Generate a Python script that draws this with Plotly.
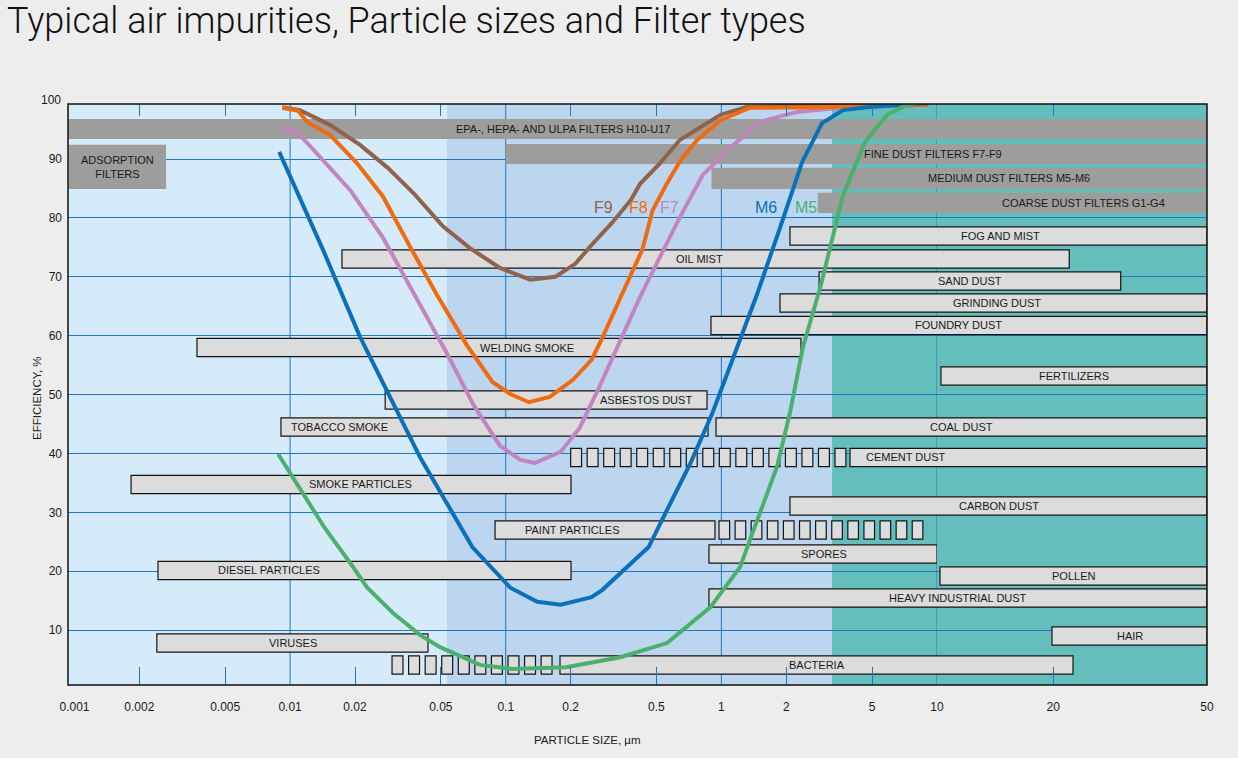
import numpy as np
import plotly.graph_objects as go

# ---- filter efficiency curves: particle size (µm) vs efficiency (%) ----
F9_SIZE = [0.0092, 0.0111, 0.0153, 0.0211, 0.0284, 0.038, 0.051, 0.068, 0.094, 0.13, 0.17, 0.21,
           0.25, 0.31, 0.38, 0.42, 0.52, 0.64, 0.80, 0.99, 1.3, 2.9, 9.3]
F9_EFF = [98.8, 98.3, 95.8, 92.4, 88.5, 83.9, 78.6, 74.9, 71.5, 69.5, 70.0, 72.2,
          75.4, 79.1, 83.0, 85.8, 89.3, 93.2, 95.4, 97.5, 98.8, 99.2, 99.5]

F8_SIZE = [0.0092, 0.0109, 0.012, 0.0153, 0.0204, 0.027, 0.036, 0.048, 0.066, 0.087, 0.105, 0.128,
           0.16, 0.205, 0.25, 0.28, 0.365, 0.43, 0.48, 0.56, 0.64, 0.77, 0.99, 1.36, 2.8, 9.1]
F8_EFF = [98.7, 98.2, 96.3, 94.1, 89.3, 83.6, 75.1, 66.9, 58.4, 52.1, 50.1, 48.7,
          49.6, 52.5, 55.9, 59.6, 68.9, 74.6, 81.3, 85.9, 89.5, 93.2, 96.6, 98.7, 98.8, 99.2]

F7_SIZE = [0.0092, 0.0109, 0.0138, 0.019, 0.027, 0.037, 0.053, 0.071, 0.094, 0.117, 0.137, 0.18,
           0.22, 0.27, 0.34, 0.42, 0.54, 0.64, 0.82, 1.1, 1.51, 2.24, 3.55, 9.1]
F7_EFF = [95.4, 94.4, 90.3, 84.7, 76.6, 67.4, 57.2, 48.2, 41.3, 38.9, 38.4, 40.3,
          44.3, 51.1, 59.3, 66.6, 74.6, 80.0, 87.3, 91.9, 96.3, 98.0, 98.7, 99.2]

M6_SIZE = [0.0089, 0.0142, 0.0211, 0.0281, 0.040, 0.055, 0.070, 0.105, 0.14, 0.18, 0.25, 0.28,
           0.365, 0.46, 0.56, 0.72, 0.91, 1.22, 1.46, 1.87, 2.37, 2.93, 3.67, 4.74, 9.1]
M6_EFF = [91.2, 74.6, 59.8, 50.8, 39.4, 30.7, 24.1, 17.2, 14.8, 14.3, 15.6, 16.8,
          20.7, 24.1, 30.4, 38.4, 46.9, 59.3, 66.9, 78.3, 89.5, 96.1, 98.3, 98.8, 99.5]

M5_SIZE = [0.0088, 0.0128, 0.0145, 0.019, 0.0227, 0.030, 0.040, 0.0496, 0.076, 0.108, 0.19, 0.34,
           0.56, 0.89, 1.22, 1.51, 1.81, 2.08, 2.39, 2.87, 3.67, 4.64, 5.87, 7.26, 9.1]
M5_EFF = [39.9, 30.4, 27.3, 21.4, 17.3, 12.9, 9.2, 7.1, 4.1, 3.4, 3.7, 5.4,
          7.8, 13.9, 20.7, 29.9, 37.7, 46.9, 58.1, 68.1, 83.9, 92.9, 97.5, 99.2, 99.7]

CURVE_NAMES = ["F9", "F7", "F8", "M6", "M5"]
CURVE_LABEL_SIZE = [0.283, 0.572, 0.411, 1.61, 2.47]
CURVE_LABEL_EFF = 81.7

# ---- filter classes (dark bands): size range and efficiency band ----
FILTER_NAMES = ["EPA-, HEPA- AND ULPA FILTERS H10-U17", "ADSORPTION<br>FILTERS",
                "FINE DUST FILTERS F7-F9", "MEDIUM DUST FILTERS M5-M6", "COARSE DUST FILTERS G1-G4"]
FILTER_MIN = [0.0009, 0.00094, 0.1, 0.9, 2.8]
FILTER_MAX = [50, 0.00266, 50, 50, 50]
FILTER_LOW = [93.4, 84.9, 89.15, 84.9, 80.85]
FILTER_HIGH = [96.8, 92.4, 92.55, 88.5, 84.25]
FILTER_LABEL_AT = [0.184, 0.00158, 9.58, 15.4, 24.0]

# ---- air impurities: size range (µm) and the row they sit on ----
IMPURITY_NAMES = ["FOG AND MIST", "OIL MIST", "SAND DUST", "GRINDING DUST", "FOUNDRY DUST",
                  "WELDING SMOKE", "FERTILIZERS", "ASBESTOS DUST", "TOBACCO SMOKE", "COAL DUST",
                  "CEMENT DUST", "SMOKE PARTICLES", "CARBON DUST", "PAINT PARTICLES", "SPORES",
                  "POLLEN", "DIESEL PARTICLES", "HEAVY INDUSTRIAL DUST", "HAIR", "VIRUSES", "BACTERIA"]
IMPURITY_MIN = [2.08, 0.0174, 2.84, 1.87, 0.895, 0.0037, 10.24, 0.0276, 0.00907, 0.9445,
                3.95, 0.00183, 2.08, 0.0892, 0.876, 10.18, 0.00244, 0.876, 19.85, 0.00241, 0.1785]
IMPURITY_MAX = [50, 22.0, 29.9, 50, 50, 2.34, 50, 0.858, 0.867, 50,
                50, 0.2008, 50, 0.934, 10, 50, 0.2008, 50, 50, 0.0436, 22.5]
IMPURITY_ROW = [76.93, 73.02, 69.29, 65.55, 61.73, 57.99, 53.15, 49.08, 44.49, 44.49,
                39.32, 34.73, 31.08, 27.0, 22.93, 19.19, 20.13, 15.46, 9.0, 7.81, 4.08]
IMPURITY_LABEL_AT = [14.6, 0.79, 12.2, 14.3, 11.4, 0.125, 22.6, 0.447, 0.0170, 11.6,
                     7.18, 0.0211, 14.5, 0.205, 2.99, 22.6, 0.0080, 11.3, 31.6, 0.0103, 2.78]

# uncertain extensions, drawn as a row of small boxes
DASHED_NAMES = ["CEMENT DUST", "PAINT PARTICLES", "BACTERIA"]
DASHED_MIN = [0.2, 0.975, 0.0297]
DASHED_MAX = [3.78, 8.6, 0.164]

# particle size zones shaded behind the chart
ZONE_EDGES = [0.0534, 3.26]

X_TICKS = [0.001, 0.002, 0.005, 0.01, 0.02, 0.05, 0.1, 0.2, 0.5, 1, 2, 5, 10]
X2_TICKS = [20, 50]
X_GRID = [0.01, 0.1, 1, 10]
X_MINOR = [0.002, 0.005, 0.02, 0.05, 0.2, 0.5, 2, 5]
Y_TICKS = [10, 20, 30, 40, 50, 60, 70, 80, 90]

# ---- styling ----
CURVE_COLORS = {"F9": "#91634a", "F8": "#ef6b12", "F7": "#c285bf", "M6": "#0b70ba", "M5": "#4bb06c"}
CURVES = {"F9": (F9_SIZE, F9_EFF), "F8": (F8_SIZE, F8_EFF), "F7": (F7_SIZE, F7_EFF),
          "M6": (M6_SIZE, M6_EFF), "M5": (M5_SIZE, M5_EFF)}
GRID = "#1f77c3"
BAR_FILL = "#dcdcdc"
BAR_LINE = dict(color="#141414", width=1.2)
FILTER_FILL = "#9d9d9b"
ZONE_COLORS = ["#d5ebfa", "#bcd6f0", "#64bfbc"]
TEXT = "#1a1a1a"
SANS = "Liberation Sans, Arial, sans-serif"
BAR_H = 3.1
BOX_PITCH = 0.0756   # decades from one box to the next
BOX_FILL = 0.66      # share of the pitch a box covers

X_RANGE = [-3.03, 1]               # lower axis (log10), ends at the 10 µm line
X2_RANGE = [1, np.log10(50) + 1e-4]
Y_RANGE = [0.68, 99.34]
SPLIT = 10
L, R, T, B = 68, 31, 104, 73
W, H = 1238, 758
SPLIT_FRAC = 869 / 1139


def rect(xref, x0, x1, y0, y1, fill, line, layer="between"):
    return dict(type="rect", xref=xref, yref="y", x0=x0, x1=x1, y0=y0, y1=y1,
                fillcolor=fill, line=line, layer=layer)


def bar_shapes(x0, x1, y0, y1, fill, line, layer="between"):
    # the size axis is in two parts joined at 10 µm; a bar crossing the join is drawn on
    # both, each overshooting so the subplot clip hides the inner edges
    if x1 <= SPLIT:
        return [rect("x", x0, x1, y0, y1, fill, line, layer)]
    if x0 >= SPLIT:
        return [rect("x2", x0, x1, y0, y1, fill, line, layer)]
    return [rect("x", x0, SPLIT * 2, y0, y1, fill, line, layer),
            rect("x2", SPLIT / 2, x1, y0, y1, fill, line, layer)]


def box_row(lo, hi, y0, y1):
    span = np.log10(hi / lo)
    n = int(round(span / BOX_PITCH + 1 - BOX_FILL))
    step = span / (n - 1 + BOX_FILL)
    out = []
    for i in range(n):
        a = np.log10(lo) + i * step
        out.append(rect("x", 10 ** a, 10 ** (a + BOX_FILL * step), y0, y1, BAR_FILL, BAR_LINE))
    return out


def label(x, y, text, size=11, color=TEXT, **kw):
    xref = "x" if x <= SPLIT else "x2"
    return dict(x=np.log10(x), xref=xref, y=y, yref="y", text=text, showarrow=False,
                font=dict(family=SANS, size=size, color=color), **kw)


shapes = []
annotations = []

# background zones
z = [10 ** X_RANGE[0] * 0.5] + ZONE_EDGES + [100]
for i, col in enumerate(ZONE_COLORS):
    shapes += bar_shapes(z[i], z[i + 1], -5, 105, col, dict(width=0), layer="below")

# decade grid lines
for v in X_GRID:
    shapes.append(dict(type="line", xref="x", yref="y", x0=v, x1=v, y0=Y_RANGE[0], y1=Y_RANGE[1],
                       line=dict(color=GRID, width=1), layer="below"))

# filter classes
for name, lo, hi, y0, y1, at in zip(FILTER_NAMES, FILTER_MIN, FILTER_MAX, FILTER_LOW, FILTER_HIGH,
                                     FILTER_LABEL_AT):
    shapes += bar_shapes(lo, hi, y0, y1, FILTER_FILL, dict(width=0))
    annotations.append(label(at, (y0 + y1) / 2, name))

# impurities
for name, lo, hi, row, at in zip(IMPURITY_NAMES, IMPURITY_MIN, IMPURITY_MAX, IMPURITY_ROW,
                                 IMPURITY_LABEL_AT):
    shapes += bar_shapes(lo, hi, row - BAR_H / 2, row + BAR_H / 2, BAR_FILL, BAR_LINE)
    annotations.append(label(at, row, name))
    if name in DASHED_NAMES:
        k = DASHED_NAMES.index(name)
        shapes += box_row(DASHED_MIN[k], DASHED_MAX[k], row - BAR_H / 2, row + BAR_H / 2)

fig = go.Figure()
for name in ["F9", "F7", "F8", "M6", "M5"]:
    xs, ys = CURVES[name]
    fig.add_trace(go.Scatter(x=xs, y=ys, mode="lines", line=dict(color=CURVE_COLORS[name], width=4),
                             hoverinfo="skip", showlegend=False))
for name, at in zip(CURVE_NAMES, CURVE_LABEL_SIZE):
    annotations.append(label(at, CURVE_LABEL_EFF, name, size=16, color=CURVE_COLORS[name]))

# empty traces so every axis gets its subplot
for ax in ["x2", "x3", "x4", "x5", "x6"]:
    fig.add_trace(go.Scatter(x=[], y=[], xaxis=ax, yaxis="y", showlegend=False, hoverinfo="skip"))

tickfont = dict(family=SANS, size=12, color=TEXT)
minor_common = dict(type="log", anchor="y", ticks="inside", tickcolor=GRID, tickwidth=1,
                    showticklabels=False, showgrid=False, zeroline=False)

# plot frame and the out-of-range "100" label
shapes.append(dict(type="rect", xref="paper", yref="paper", x0=0, x1=1, y0=0, y1=1,
                   line=dict(color="#111111", width=1.5), layer="above"))
annotations += [
    dict(xref="paper", yref="paper", x=0, y=1, xanchor="right", yanchor="middle", xshift=-5, yshift=4,
         text="100", showarrow=False, font=tickfont),
    dict(xref="paper", yref="paper", x=(587 - L) / 1139, y=-55 / 581, yanchor="middle",
         text="PARTICLE SIZE, µm", showarrow=False, font=dict(family=SANS, size=11.5, color=TEXT)),
    dict(xref="paper", yref="paper", x=-39 / 1139, y=0.494, textangle=-90,
         text="EFFICIENCY, %", showarrow=False, font=dict(family=SANS, size=11.5, color=TEXT)),
]

fig.update_layout(
    width=W, height=H,
    margin=dict(l=L, r=R, t=T, b=B),
    paper_bgcolor="#ededed",
    plot_bgcolor=ZONE_COLORS[0],
    title=dict(text="Typical air impurities, Particle sizes and Filter types", x=7 / W, xanchor="left",
               y=1 - 20 / H, yanchor="middle",
               font=dict(family="Roboto, Liberation Sans, sans-serif", size=36, weight=300, color="#111111")),
    xaxis=dict(type="log", range=X_RANGE, domain=[0, SPLIT_FRAC], anchor="y",
               tickvals=X_TICKS, ticktext=[f"{v:g}" for v in X_TICKS], ticks="",
               ticklabelstandoff=13, tickfont=tickfont, showgrid=False, zeroline=False),
    xaxis2=dict(type="log", range=X2_RANGE, domain=[SPLIT_FRAC, 1], anchor="y",
                tickvals=X2_TICKS, ticktext=[str(v) for v in X2_TICKS], ticks="",
                ticklabelstandoff=13, tickfont=tickfont, showgrid=False, zeroline=False),
    xaxis3=dict(overlaying="x", range=X_RANGE, side="bottom", tickvals=X_MINOR, ticklen=18, **minor_common),
    xaxis4=dict(overlaying="x", range=X_RANGE, side="top", tickvals=X_MINOR, ticklen=12, **minor_common),
    xaxis5=dict(overlaying="x2", range=X2_RANGE, side="bottom", tickvals=[20], ticklen=18, **minor_common),
    xaxis6=dict(overlaying="x2", range=X2_RANGE, side="top", tickvals=[20], ticklen=12, **minor_common),
    yaxis=dict(range=Y_RANGE, domain=[0, 1], anchor="x", tickvals=Y_TICKS, ticks="",
               ticklabelstandoff=5, tickfont=tickfont, showgrid=True, gridcolor=GRID, gridwidth=1,
               zeroline=False),
    shapes=shapes,
    annotations=annotations,
    hovermode=False,
)

# the page's default body margin would push the figure off its 1238x758 frame
fig.write_html("out.html", config={"displayModeBar": False},
               post_script="document.body.style.margin = '0';")
